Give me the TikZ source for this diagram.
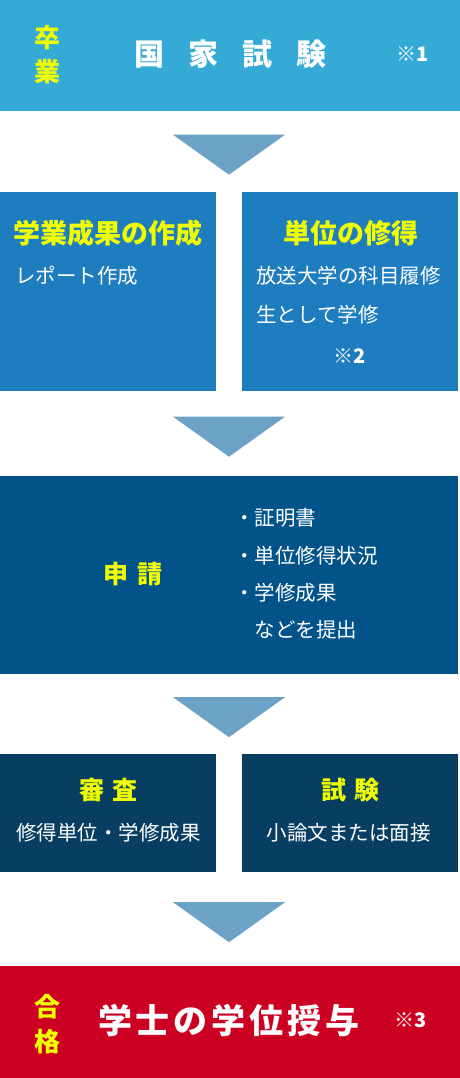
\documentclass[tikz,border=0pt]{standalone}
\usepackage{fontspec}
\setmainfont{Noto Sans CJK JP}
\usetikzlibrary{positioning, calc}
\definecolor{skyblue}{HTML}{35AAD7}
\definecolor{midblue}{HTML}{1E7DBE}
\definecolor{navyblue}{HTML}{02538A}
\definecolor{deepnavy}{HTML}{073E62}
\definecolor{passred}{HTML}{CC0022}
\definecolor{arrowblue}{HTML}{6CA2C6}
\definecolor{marker}{HTML}{F0FF00}
\tikzset{
  stage/.style={
    rectangle, inner sep=0pt, anchor=north west, draw=none
  },
  title/.style={
    inner sep=0pt, text=white,
    font=\fontsize{30}{36}\selectfont\bfseries
  },
  tag/.style={
    inner sep=0pt, text=marker, align=center,
    font=\fontsize{26}{34}\selectfont\bfseries
  },
  heading/.style={
    inner sep=0pt, text=marker,
    font=\fontsize{27}{32}\selectfont\bfseries
  },
  body/.style={
    inner sep=0pt, text=white, align=left,
    font=\fontsize{20.5}{39}\selectfont
  },
  note/.style={
    inner sep=0pt, text=white,
    font=\fontsize{20}{24}\selectfont\bfseries
  },
  tri/.style={fill=arrowblue},
}

\begin{document}
\begin{tikzpicture}[x=1pt, y=-1pt]

\useasboundingbox (0,0) rectangle (460,1078);

% --- Stage boxes ---
\node[stage, fill=skyblue, minimum width=460, minimum height=111] (kokka) at (0,0) {};
\node[stage, fill=midblue, minimum width=216, minimum height=199] (seika) at (0,192) {};
\node[stage, fill=midblue, minimum width=216, minimum height=199] (tani) at (242,192) {};
\node[stage, fill=navyblue, minimum width=458, minimum height=198] (shinsei) at (0,476) {};
\node[stage, fill=deepnavy, minimum width=216, minimum height=118] (shinsa) at (0,754) {};
\node[stage, fill=deepnavy, minimum width=216, minimum height=118] (shiken) at (242,754) {};
\node[stage, fill=passred, minimum width=460, minimum height=112] (gokaku) at (0,966) {};

% --- Graduation / national exam ---
\node[tag] (sotsugyo) at (47,55) {卒\\業};
\node[title] (kokkatext) at (230.5,54) {国\hspace{24pt}家\hspace{24pt}試\hspace{24pt}験};
\node[note] (note1) at (413,54) {※1};

% --- Report and credits ---
\node[heading] (seikahead) at (107.5,233) {学業成果の作成};
\node[body, anchor=west] (seikabody) at (15,276) {レポート作成};
\node[heading] (tanihead) at (351,233) {単位の修得};
\node[body, anchor=west] (tanibody) at (256,295.5) {放送大学の科目履修\\生として学修};
\node[note] (note2) at (350,356) {※2};

% --- Application ---
\node[tag, font=\fontsize{25}{30}\selectfont\bfseries] (shinseihead) at (133,574) {申\hspace{9pt}請};
\node[body, anchor=west, font=\fontsize{20.5}{37.4}\selectfont] (shinseibody) at (234,574)
  {・証明書\\・単位修得状況\\・学修成果\\　などを提出};

% --- Review and exam ---
\node[tag, font=\fontsize{25}{30}\selectfont\bfseries] (shinsahead) at (108,790) {審\hspace{8pt}査};
\node[body] (shinsabody) at (108.5,833) {修得単位・学修成果};
\node[tag, font=\fontsize{25}{30}\selectfont\bfseries] (shikenhead) at (350,790) {試\hspace{8pt}験};
\node[body] (shikenbody) at (348.5,833) {小論文または面接};

% --- Degree ---
\node[tag, font=\fontsize{26}{35}\selectfont\bfseries] (goukaku) at (47,1024.5) {合\\格};
\node[title, font=\fontsize{34}{40}\selectfont\bfseries] (gakui) at (229,1020)
  {学\hspace{4pt}士\hspace{4pt}の\hspace{4pt}学\hspace{4pt}位\hspace{4pt}授\hspace{4pt}与};
\node[note] (note3) at (411,1020) {※3};

% --- Flow arrows ---
\coordinate (axis) at (229,0);
\foreach \a/\b in {kokka/tani, tani/shinsei, shinsei/shiken, shiken/gokaku}{
  \path ($(\a.south)!0.5!(\b.north)$) coordinate (mid);
  \fill[tri] ($(axis |- mid)+(-56,-17)$) -- ($(axis |- mid)+(56,-17)$)
    -- ($(axis |- mid)+(0,23)$) -- cycle;
}

\end{tikzpicture}
\end{document}
